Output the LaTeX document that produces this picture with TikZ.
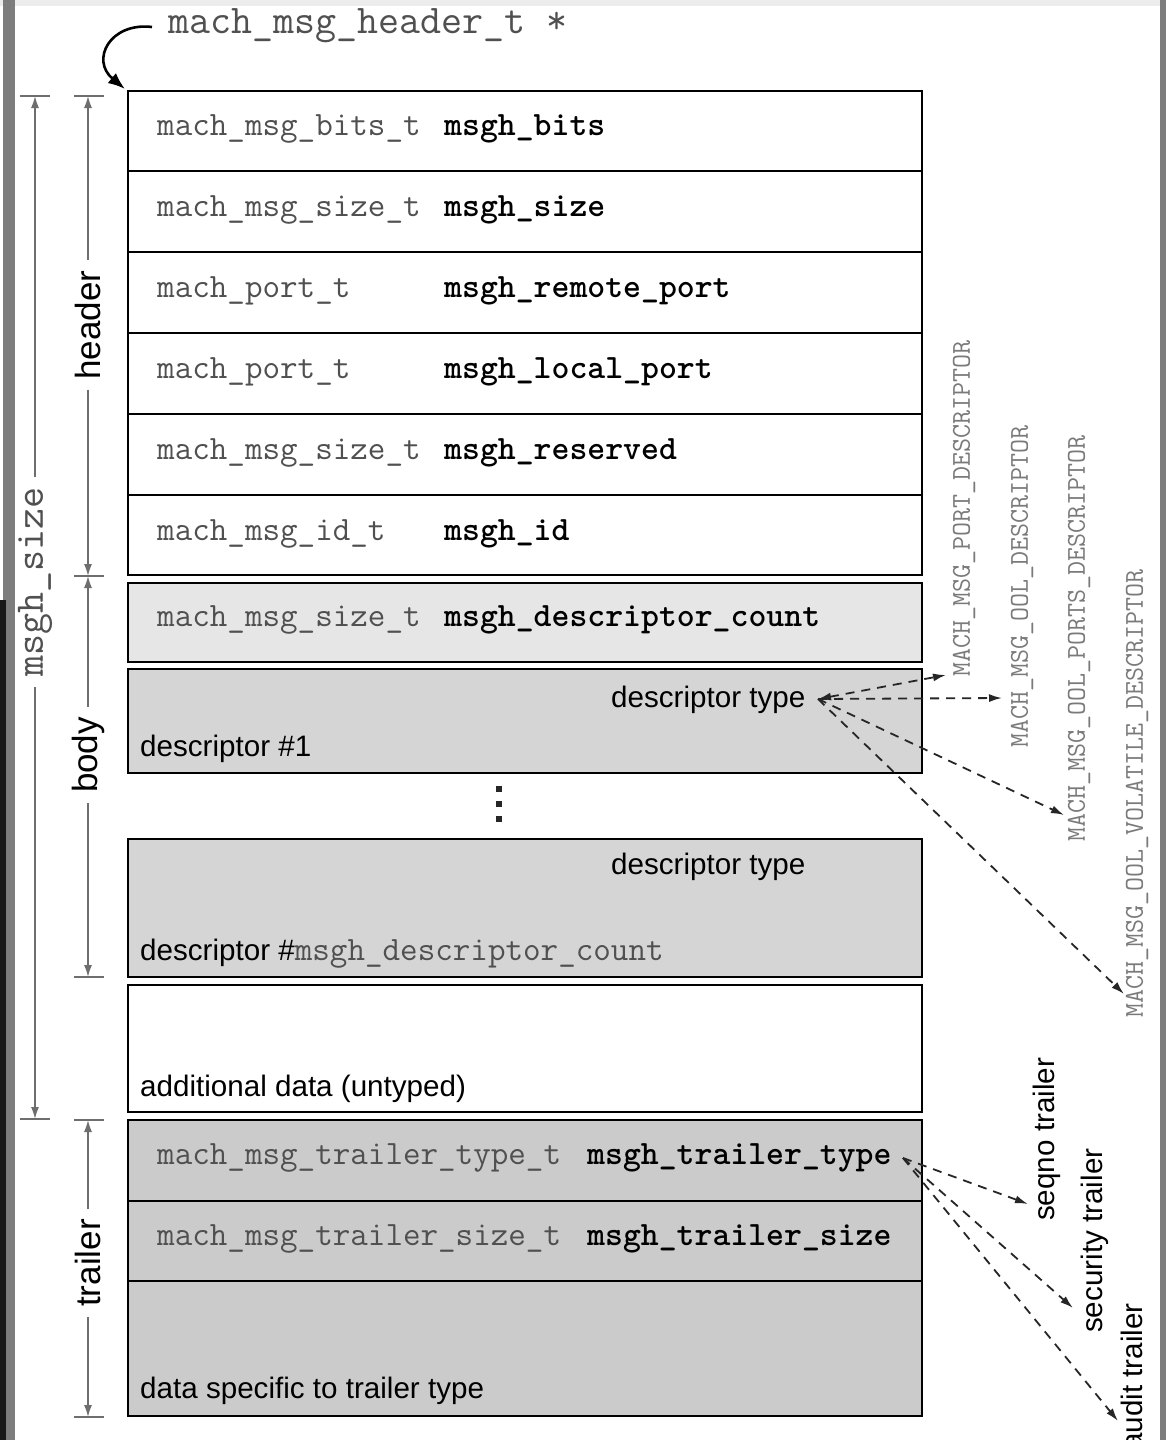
\documentclass[tikz,border=0pt]{standalone}
\usepackage{fontspec}
\setmainfont{Liberation Sans}
\setsansfont{Liberation Sans}
\usetikzlibrary{arrows.meta}

\definecolor{typegray}{HTML}{505050}
\definecolor{dimgray}{HTML}{6E6E6E}
\definecolor{lightfill}{HTML}{E6E6E6}
\definecolor{midfill}{HTML}{D5D5D5}
\definecolor{darkfill}{HTML}{CBCBCB}
\definecolor{labgray}{HTML}{7A7A7A}
\definecolor{framegray}{HTML}{7D7D7D}
\definecolor{topband}{HTML}{ECECEC}

\newcommand{\mytt}{\ttfamily\fontsize{34.1}{36}\selectfont}
\newcommand{\mysans}{\sffamily\fontsize{29.6}{32}\selectfont}
\newcommand{\mybigtt}{\ttfamily\fontsize{40.8}{42}\selectfont}
\newcommand{\mybigsans}{\sffamily\fontsize{35}{38}\selectfont}
\newcommand{\mysmalltt}{\ttfamily\fontsize{27.2}{29}\selectfont}

\begin{document}
\begin{tikzpicture}[x=1pt,y=-1pt,
  box/.style={draw=black, line width=2.6pt},
  dim/.style={draw=dimgray, line width=1.6pt},
  dimarrow/.style={dim, -{Latex[length=12pt,width=8pt]}},
  dasharrow/.style={draw=black!85, line width=1.8pt, dash pattern=on 9pt off 7pt, -{Latex[length=13pt,width=8pt]}},
  tytext/.style={anchor=base west, inner sep=0pt, font=\mytt, text=typegray},
  fieldtext/.style={anchor=base west, inner sep=0pt, font=\mytt\bfseries, text=black},
  sanstext/.style={anchor=base west, inner sep=0pt, font=\mysans, text=black},
  dimlabel/.style={rotate=90, inner sep=0pt, inner xsep=10pt},
  desclabel/.style={rotate=90, anchor=west, inner sep=0pt, font=\mysmalltt, text=labgray},
  traillabel/.style={rotate=90, inner sep=0pt, font=\mysans, text=black}
]
\useasboundingbox (0,0) rectangle (1166,1440);
\clip (0,0) rectangle (1166,1440);
\fill[white] (0,0) rectangle (1166,1440);
% screen frame
\fill[topband] (0,0) rectangle (1166,6);
\fill[framegray] (3,0) rectangle (15,1440);
\fill[black!90] (0,600) rectangle (6,1440);
\fill[framegray] (1160,0) rectangle (1166,1440);

% header rows
\draw[box, fill=white] (128,91) rectangle (922,171);
\draw[box, fill=white] (128,171) rectangle (922,252);
\draw[box, fill=white] (128,252) rectangle (922,333);
\draw[box, fill=white] (128,333) rectangle (922,414);
\draw[box, fill=white] (128,414) rectangle (922,495);
\draw[box, fill=white] (128,495) rectangle (922,575);
% body
\draw[box, fill=lightfill] (128,583) rectangle (922,662);
\draw[box, fill=midfill] (128,669) rectangle (922,773);
\draw[box, fill=midfill] (128,839) rectangle (922,977);
\draw[box, fill=white] (128,985) rectangle (922,1112);
% trailer
\draw[box, fill=darkfill] (128,1120) rectangle (922,1201);
\draw[box, fill=darkfill] (128,1201) rectangle (922,1281);
\draw[box, fill=darkfill] (128,1281) rectangle (922,1416);

% texts
\node[tytext] (t1) at (157,135) {mach\_msg\_bits\_t};
\node[fieldtext] (f1) at (444,135) {msgh\_bits};
\node[tytext] (t2) at (157,216) {mach\_msg\_size\_t};
\node[fieldtext] (f2) at (444,216) {msgh\_size};
\node[tytext] (t3) at (157,297) {mach\_port\_t};
\node[fieldtext] (f3) at (444,297) {msgh\_remote\_port};
\node[tytext] (t4) at (157,378) {mach\_port\_t};
\node[fieldtext] (f4) at (444,378) {msgh\_local\_port};
\node[tytext] (t5) at (157,459) {mach\_msg\_size\_t};
\node[fieldtext] (f5) at (444,459) {msgh\_reserved};
\node[tytext] (t6) at (157,540) {mach\_msg\_id\_t};
\node[fieldtext] (f6) at (444,540) {msgh\_id};
\node[tytext] (t7) at (157,626) {mach\_msg\_size\_t};
\node[fieldtext] (f7) at (444,626) {msgh\_descriptor\_count};

\node[sanstext] (dt1) at (611,707) {descriptor type};
\node[sanstext] (d1) at (140,756) {descriptor \#1};
\node[sanstext] (dt2) at (611,874) {descriptor type};
\node[sanstext] (d2) at (140,960) {descriptor \#{\mytt\color{typegray}msgh\_descriptor\_count}};
\node[sanstext] (add) at (140,1096) {additional data (untyped)};

\node[tytext] (t11) at (157,1164) {mach\_msg\_trailer\_type\_t};
\node[fieldtext] (f11) at (587,1164) {msgh\_trailer\_type};
\node[tytext] (t12) at (157,1245) {mach\_msg\_trailer\_size\_t};
\node[fieldtext] (f12) at (587,1245) {msgh\_trailer\_size};
\node[sanstext] (dspec) at (140,1398) {data specific to trailer type};

% vertical dots
\fill[black!85] (496,786) rectangle (502,792);
\fill[black!85] (496,801) rectangle (502,807);
\fill[black!85] (496,816) rectangle (502,822);

% header pointer
\node[anchor=base west, inner sep=0pt, font=\mybigtt, text=typegray] (hdr) at (168,33) {mach\_msg\_header\_t *};
\coordinate (hdrstart) at (152,27);
\coordinate (boxcorner) at (125,89);
\draw[line width=2.6pt, -{Latex[length=17pt,width=13pt]}] (hdrstart) .. controls (110,22) and (90,60) .. (boxcorner);

% dimension: msgh_size
\coordinate (oT) at (35,96);
\coordinate (oB) at (35,1119);
\draw[dim] (20,96) -- (50,96);
\draw[dim] (20,1119) -- (50,1119);
\node[dimlabel, font=\mybigtt, text=typegray] (msz) at (35,582) {msgh\_size};
\draw[dimarrow] (msz.east) -- (oT);
\draw[dimarrow] (msz.west) -- (oB);

% dimension: header / body / trailer
\coordinate (hT) at (88,96);
\coordinate (hB) at (88,576);
\coordinate (bB) at (88,977);
\coordinate (tT) at (88,1120);
\coordinate (tB) at (88,1417);
\draw[dim] (74,96) -- (104,96);
\draw[dim] (74,576) -- (104,576);
\draw[dim] (74,977) -- (104,977);
\draw[dim] (74,1120) -- (104,1120);
\draw[dim] (74,1417) -- (104,1417);
\node[dimlabel, font=\mybigsans, text=black] (lhead) at (88,325) {header};
\node[dimlabel, font=\mybigsans, text=black] (lbody) at (88,755) {body};
\node[dimlabel, font=\mybigsans, text=black] (ltrail) at (88,1263) {trailer};
\draw[dimarrow] (lhead.east) -- (hT);
\draw[dimarrow] (lhead.west) -- (hB);
\draw[dimarrow] (lbody.east) -- (hB);
\draw[dimarrow] (lbody.west) -- (bB);
\draw[dimarrow] (ltrail.east) -- (tT);
\draw[dimarrow] (ltrail.west) -- (tB);

% descriptor type labels
\node[desclabel] (port) at (964,677) {MACH\_MSG\_PORT\_DESCRIPTOR};
\node[desclabel] (ool) at (1022,748) {MACH\_MSG\_OOL\_DESCRIPTOR};
\node[desclabel] (oolp) at (1079,842) {MACH\_MSG\_OOL\_PORTS\_DESCRIPTOR};
\node[desclabel] (oolv) at (1137,1018) {MACH\_MSG\_OOL\_VOLATILE\_DESCRIPTOR};
\coordinate (dsrc) at (818,699);
\coordinate (pA) at (946,675);
\coordinate (pB) at (1002,698);
\coordinate (pC) at (1064,815);
\coordinate (pD) at (1124,994);
\draw[dasharrow, {Latex[length=13pt,width=8pt]}-{Latex[length=13pt,width=8pt]}] (dsrc) -- (pA);
\draw[dasharrow] (dsrc) -- (pB);
\draw[dasharrow] (dsrc) -- (pC);
\draw[dasharrow] (dsrc) -- (pD);

% trailer type labels
\node[traillabel, anchor=west] (seq) at (1047,1221) {seqno trailer};
\node[traillabel, anchor=west] (sec) at (1095,1333) {security trailer};
\node[traillabel, anchor=east] (aud) at (1132,1303) {audit trailer};
\coordinate (tsrc) at (903,1158);
\coordinate (qA) at (1028,1204);
\coordinate (qB) at (1073,1308);
\coordinate (qC) at (1118,1421);
\draw[dasharrow] (tsrc) -- (qA);
\draw[dasharrow] (tsrc) -- (qB);
\draw[dasharrow] (tsrc) -- (qC);
\end{tikzpicture}
\end{document}
